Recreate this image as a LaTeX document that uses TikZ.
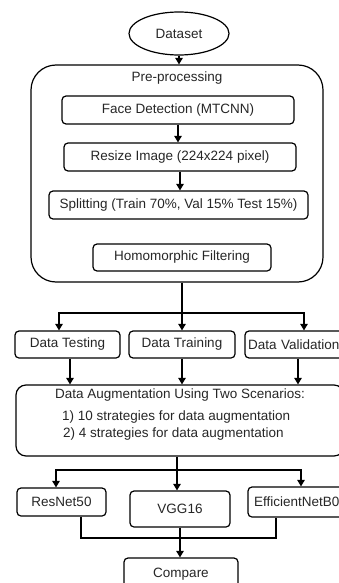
\documentclass[tikz,border=0pt]{standalone}
\usepackage{fontspec}
\setmainfont{Liberation Sans}
\usetikzlibrary{arrows.meta,shapes.geometric}
\tikzset{
  base/.style={draw=black, line width=1.2pt, text=black!85, inner sep=0pt,
    font=\fontsize{13.5}{16}\selectfont},
  box/.style={base, rectangle, rounded corners=4pt},
  conn/.style={line width=1.2pt, draw=black},
  arr/.style={conn, -{Triangle[length=6.5pt,width=7.5pt]}},
}
\begin{document}
\begin{tikzpicture}[x=1pt,y=-1pt]
\useasboundingbox (0,0) rectangle (339,583);
\clip (0,0) rectangle (339,583);
% top
\node[base, ellipse, minimum width=100, minimum height=43] (dataset) at (179,33.5) {Dataset};
\node[box, rounded corners=25pt, minimum width=292, minimum height=217] (pre) at (177,173.5) {};
\node[font=\fontsize{13.5}{16}\selectfont, text=black!85, inner sep=0pt] (pretitle) at (177,78) {Pre-processing};
\node[box, minimum width=232, minimum height=28] (face) at (178,110) {Face Detection (MTCNN)};
\node[box, minimum width=232, minimum height=28] (resize) at (180,157) {Resize Image (224x224 pixel)};
\node[box, minimum width=259, minimum height=28] (split) at (178.5,205) {Splitting (Train 70\%, Val 15\% Test 15\%)};
\node[box, minimum width=178, minimum height=27] (homo) at (182,257.5) {Homomorphic Filtering};
\draw[arr] (dataset.south) -- (pre.north -| dataset.south);
\draw[arr] (face.south) -- (face.south |- resize.north);
\draw[arr] (resize.south) -- (resize.south |- split.north);
% data split
\node[box, minimum width=105, minimum height=27] (test) at (67.5,344.5) {Data Testing};
\node[box, minimum width=106, minimum height=27] (train) at (182,344.5) {Data Training};
\node[box, minimum height=27, text width=114, align=left, inner xsep=3pt] (valid) at (305,344.5) {Data Validation};
\coordinate (b1) at (182,313);
\coordinate (tin) at (59,313);
\coordinate (vin) at (304,313);
\coordinate (vout) at (298,358);
\draw[conn] (pre.south -| train.north) -- (b1);
\draw[arr] (b1) -- (train.north);
\draw[arr] (b1) -- (tin) -- (tin |- test.north);
\draw[arr] (b1) -- (vin) -- (vin |- valid.north);
% augmentation
\node[box, rounded corners=10pt, minimum width=328, minimum height=71,
  font=\fontsize{13.5}{17}\selectfont] (aug) at (180,420.5)
  {\begin{tabular}{@{}l@{}}
   \multicolumn{1}{@{}c@{}}{Data Augmentation Using Two Scenarios:}\\[5pt]
   \hspace{7pt}1) 10 strategies for data augmentation\\
   \hspace{8pt}2) 4 strategies for data augmentation\\[11pt]
   \end{tabular}};
\draw[arr] ([xshift=2.5pt]test.south) -- ([xshift=2.5pt]test.south |- aug.north);
\draw[arr] (train.south) -- (train.south |- aug.north);
\draw[arr] (vout |- valid.south) -- (vout |- aug.north);
% models
\node[box, minimum width=89, minimum height=28] (resnet) at (61.5,502) {ResNet50};
\node[box, minimum width=100, minimum height=36] (vgg) at (180,509) {VGG16};
\node[box, minimum height=30, text width=110, align=left, inner xsep=6pt] (eff) at (309,502) {EfficientNetB0};
\coordinate (b2) at (177,470);
\coordinate (rin) at (56,470);
\coordinate (ein) at (301,470);
\draw[conn] (aug.south -| b2) -- (b2);
\draw[arr] (b2) -- (b2 |- vgg.north);
\draw[arr] (b2) -- (rin) -- (rin |- resnet.north);
\draw[arr] (b2) -- (ein) -- (ein |- eff.north);
% compare
\node[box, minimum width=114, minimum height=32] (compare) at (181,574) {Compare};
\coordinate (rout) at (81,538);
\coordinate (eout) at (276,538);
\draw[conn] (rout |- resnet.south) -- (rout) -- (eout) -- (eout |- eff.south);
\draw[arr] (vgg.south) -- (vgg.south |- compare.north);
\end{tikzpicture}
\end{document}
